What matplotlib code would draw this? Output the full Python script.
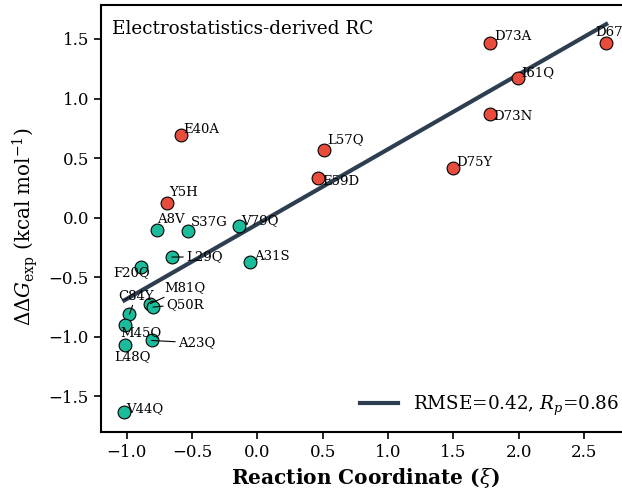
import numpy as np
import matplotlib
matplotlib.use("Agg")
import matplotlib.pyplot as plt

plt.rcParams['font.family'] = ['DejaVu Serif']
plt.rcParams['mathtext.fontset'] = 'dejavuserif'

# destabilising mutations (red)
red_names = ['D73A', 'D67A', 'I61Q', 'D73N', 'D75Y', 'L57Q', 'E59D', 'E40A', 'Y5H']
red_x = [1.78, 2.67, 1.995, 1.78, 1.50, 0.51, 0.46, -0.585, -0.69]
red_y = [1.47, 1.47, 1.17, 0.87, 0.42, 0.57, 0.33, 0.69, 0.12]
red_tx = [1.81, 2.587, 2.017, 1.803, 1.52, 0.532, 0.494, -0.571, -0.678]
red_ty = [1.52, 1.55, 1.22, 0.85, 0.46, 0.657, 0.303, 0.74, 0.21]

# stabilising / other mutations (teal)
grn_names = ['A8V', 'S37G', 'V79Q', 'L29Q', 'A31S', 'F20Q', 'M81Q', 'Q50R',
             'C84Y', 'M45Q', 'L48Q', 'A23Q', 'V44Q']
grn_x = [-0.77, -0.53, -0.14, -0.655, -0.057, -0.89, -0.82, -0.80,
         -0.98, -1.015, -1.015, -0.81, -1.02]
grn_y = [-0.10, -0.11, -0.07, -0.33, -0.37, -0.41, -0.72, -0.75,
         -0.81, -0.90, -1.07, -1.03, -1.63]
grn_tx = [-0.77, -0.509, -0.126, -0.547, -0.027, -1.107, -0.716, -0.701,
          -1.068, -1.053, -1.099, -0.609, -1.007]
grn_ty = [-0.017, -0.042, -0.025, -0.329, -0.329, -0.464, -0.59, -0.725,
          -0.657, -0.96, -1.163, -1.05, -1.6]
connected = {'L29Q', 'M81Q', 'Q50R', 'C84Y', 'A23Q'}

# fitted line
fit_slope = 0.628
fit_intercept = -0.053

fig = plt.figure(figsize=(6.22, 4.93), dpi=100)
ax = fig.add_axes([0.162, 0.1237, 0.8504, 0.866])

all_x = np.array(red_x + grn_x)
xf = np.array([all_x.min(), all_x.max()])
ax.plot(xf, fit_slope * xf + fit_intercept, color='#2c3e50', lw=3,
        label=r'RMSE=0.42, $R_p$=0.86', zorder=2)

ax.scatter(red_x, red_y, s=85, color='#e74c3c', edgecolor='black', lw=0.8, zorder=3)
ax.scatter(grn_x, grn_y, s=85, color='#1abc9c', edgecolor='black', lw=0.8, zorder=3)

for names, xs, ys, txs, tys in [(red_names, red_x, red_y, red_tx, red_ty),
                                (grn_names, grn_x, grn_y, grn_tx, grn_ty)]:
    for n, x, y, tx, ty in zip(names, xs, ys, txs, tys):
        if n in connected:
            ax.annotate(n, (x, y), xytext=(tx, ty), ha='left', va='center', fontsize=9.5,
                        arrowprops=dict(arrowstyle='-', color='black', lw=0.8,
                                        shrinkA=0, shrinkB=0), zorder=4)
        else:
            ax.text(tx, ty, n, ha='left', va='center', fontsize=9.5, zorder=4)

ax.text(0.021, 0.965, 'Electrostatistics-derived RC', transform=ax.transAxes,
        ha='left', va='top', fontsize=13.2)

ax.set_xlim(-1.2, 2.85)
ax.set_ylim(-1.798, 1.784)
ax.set_xticks([-1.0, -0.5, 0.0, 0.5, 1.0, 1.5, 2.0, 2.5])
ax.set_yticks([-1.5, -1.0, -0.5, 0.0, 0.5, 1.0, 1.5])
ax.tick_params(labelsize=12, width=1.2, length=5)
for sp in ax.spines.values():
    sp.set_linewidth(1.5)

ax.set_xlabel(r'Reaction Coordinate ($\xi$)', fontsize=14.5, fontweight='bold')
ax.set_ylabel(r'$\Delta\Delta G_{\rm exp}$ (kcal mol$^{-1}$)', fontsize=14.3)
ax.yaxis.set_label_coords(-0.115, 0.482)

ax.legend(loc='center left', bbox_to_anchor=(0.49, 0.062), frameon=False,
          fontsize=13.2, borderpad=0, borderaxespad=0, handlelength=2.1)

fig.savefig('out.png', dpi=100)
